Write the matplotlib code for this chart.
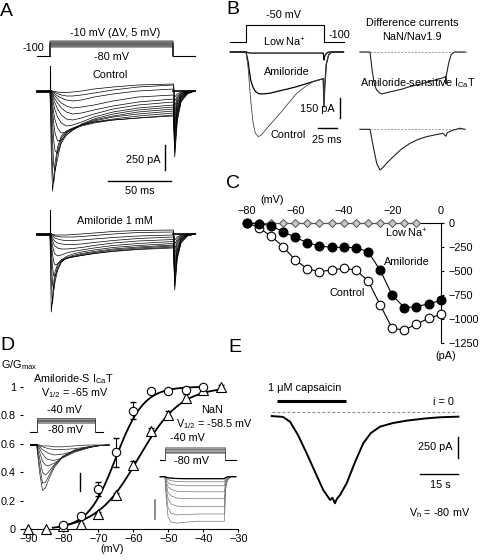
import numpy as np
import matplotlib.pyplot as plt

plt.rcParams['font.family'] = ['Liberation Sans', 'DejaVu Sans']
plt.rcParams['mathtext.fontset'] = 'custom'
plt.rcParams['mathtext.rm'] = 'Liberation Sans'
plt.rcParams['mathtext.it'] = 'Liberation Sans:italic'
plt.rcParams['mathtext.bf'] = 'Liberation Sans:bold'
plt.rcParams['font.size'] = 7.8
plt.rcParams['axes.linewidth'] = 0.8

W, H = 480, 560
FS = 7.8

# ---------------- A: current families, ms / pA ----------------
a_t = [-10, 0, 1, 2, 3, 4, 6, 9, 13, 18, 25, 35, 50, 70, 98, 99, 101, 104, 109, 115]
a_control = [
    [0, 0, -600, -1000, -880, -720, -560, -450, -400, -370, -340, -310, -290, -270, -250, -660, -300, -110, -30, 0],
    [0, 0, -350, -800, -920, -800, -600, -470, -410, -380, -350, -320, -290, -270, -240, -620, -280, -100, -25, 0],
    [0, 0, -200, -500, -750, -800, -680, -500, -420, -380, -340, -310, -280, -250, -220, -560, -250, -90, -20, 0],
    [0, 0, -120, -300, -500, -600, -620, -520, -440, -390, -340, -300, -260, -230, -200, -500, -220, -80, -20, 0],
    [0, 0, -80, -200, -330, -420, -500, -490, -440, -390, -340, -290, -250, -210, -180, -450, -200, -70, -15, 0],
    [0, 0, -50, -130, -220, -290, -370, -420, -410, -380, -330, -280, -230, -190, -160, -400, -180, -60, -15, 0],
    [0, 0, -30, -80, -140, -190, -260, -320, -350, -340, -310, -260, -210, -170, -140, -350, -160, -55, -10, 0],
    [0, 0, -20, -50, -90, -120, -180, -240, -280, -290, -270, -230, -180, -140, -110, -300, -130, -45, -10, 0],
    [0, 0, -10, -30, -60, -80, -120, -170, -210, -230, -220, -190, -150, -110, -80, -250, -110, -40, -10, 0],
    [0, 0, -5, -20, -40, -50, -80, -120, -150, -170, -160, -140, -100, -60, -40, -200, -90, -30, -5, 0],
    [0, 0, -5, -10, -20, -30, -50, -70, -90, -100, -90, -60, -30, 0, 20, -150, -70, -25, -5, 0],
    [0, 0, 0, -5, -10, -15, -25, -40, -50, -50, -40, -20, 10, 40, 60, -100, -50, -20, 0, 0],
    [0, 0, 0, 0, -5, -5, -10, -15, -15, -10, 0, 20, 40, 60, 70, -60, -30, -10, 0, 0],
]
a_amiloride = [
    [0, 0, -780, -650, -480, -380, -300, -260, -240, -230, -215, -195, -175, -155, -140, -560, -250, -90, -20, 0],
    [0, 0, -450, -700, -560, -430, -330, -270, -245, -230, -215, -195, -170, -150, -130, -520, -230, -80, -20, 0],
    [0, 0, -250, -500, -560, -480, -360, -280, -245, -225, -205, -185, -160, -140, -120, -470, -210, -70, -15, 0],
    [0, 0, -150, -330, -420, -420, -360, -280, -240, -215, -195, -175, -150, -130, -110, -420, -190, -60, -15, 0],
    [0, 0, -90, -200, -280, -310, -300, -260, -225, -200, -180, -160, -135, -115, -95, -370, -170, -55, -10, 0],
    [0, 0, -50, -120, -170, -200, -220, -210, -190, -175, -160, -140, -115, -95, -75, -320, -150, -50, -10, 0],
    [0, 0, -30, -70, -100, -120, -140, -150, -150, -145, -135, -115, -90, -70, -55, -260, -120, -40, -10, 0],
    [0, 0, -20, -40, -60, -75, -90, -100, -105, -105, -100, -85, -65, -45, -30, -200, -90, -30, -5, 0],
    [0, 0, -10, -20, -30, -40, -50, -60, -65, -65, -60, -50, -35, -20, -10, -150, -70, -25, -5, 0],
    [0, 0, -5, -10, -15, -20, -25, -30, -30, -30, -25, -15, 0, 15, 20, -100, -50, -15, 0, 0],
    [0, 0, 0, -5, -5, -10, -10, -10, -10, -5, 0, 10, 25, 35, 40, -60, -30, -10, 0, 0],
]
a_artifact = [250, 240]           # capacitive transient at step onset (pA)
a_steps_mv = list(range(-80, -5, 5))
a_step_ms = 98

# ---------------- B: low Na+ / amiloride, ms / pA ----------------
b_protocol_t = [-20, 0, 0, 100, 100, 125]
b_protocol_mv = [-100, -100, -50, -50, -100, -100]
b_t = [-20, 0, 2.6, 6, 9, 12, 16, 20, 30, 44, 55, 65, 76, 86, 99, 100, 101, 103, 106, 110, 125]
b_control = [0, 0, -110, -360, -530, -610, -635, -620, -550, -458, -380, -310, -260, -222, -200, -410, -250, -90, -20, 0, 0]
b_amiloride = [0, 0, -70, -210, -265, -295, -312, -315, -310, -290, -275, -260, -240, -222, -200, -410, -250, -90, -20, 0, 0]
b_lowna = [0, 0, -5, -8, -8, -8, -8, -8, -8, -8, -8, -8, -8, -8, -8, -60, -30, -10, 0, 0, 0]
b_nan_t = [-13, 0, 3, 6, 8.5, 12, 15, 25, 40, 51, 65, 80, 93, 97, 97.3, 97.6, 99, 101, 104, 108, 122]
b_nan = [0, 0, -150, -250, -285, -305, -315, -300, -280, -260, -240, -215, -195, -185, -240, -185, -140, -80, -20, 0, 0]
b_icat_t = [-13, 0, 4.2, 8.6, 12.8, 16, 22, 29.9, 40, 51.3, 62, 72.7, 85, 93.6, 97.4, 99, 105, 115, 122]
b_icat = [0, 0, -130, -255, -305, -290, -250, -205, -150, -105, -75, -55, -40, -30, -52, -25, -10, 8, 0]

# ---------------- C: I-V relationships ----------------
c_mv = list(range(-80, 5, 5))
c_control = [0, -52, -138, -248, -387, -476, -508, -490, -473, -490, -600, -850, -1095, -1112, -1050, -991, -950]
c_amiloride = [0, -10, -32, -93, -152, -207, -242, -255, -255, -259, -300, -490, -750, -880, -870, -840, -806]
c_lowna_mv = list(range(-80, -5, 5))
c_lowna = [0, 0, 0, 0, 0, 0, 0, 0, 0, 0, 0, 0, 0, 0, 0]

# ---------------- D: activation curves ----------------
d_icat_mv = [-80, -75, -70, -65, -60, -55, -50, -45, -40]
d_icat_g = [0.03, 0.09, 0.28, 0.54, 0.83, 0.97, 0.97, 0.98, 1.0]
d_icat_err = [0.01, 0.02, 0.05, 0.10, 0.06, 0.01, 0.01, 0.01, 0.01]
d_nan_mv = [-90, -85, -80, -75, -70, -65, -60, -55, -50, -45, -40, -35]
d_nan_g = [0.0, 0.0, 0.02, 0.035, 0.11, 0.24, 0.45, 0.69, 0.80, 0.92, 0.98, 1.0]
d_nan_err = [0, 0, 0, 0.01, 0.01, 0.015, 0.03, 0.02, 0.03, 0.03, 0.01, 0.01]
d_icat_v12, d_icat_k = -65.0, 4.0
d_nan_v12, d_nan_k = -58.5, 6.0
d_steps_mv = list(range(-80, -35, 5))
d_icat_t = [-10, 0, 5, 10, 15, 20, 30, 45, 65, 90, 100, 110, 125]
d_icat_traces = [
    [0, 0, -150, -250, -235, -195, -125, -65, -30, -12, -8, -3, 0],
    [0, 0, -110, -210, -205, -175, -115, -62, -28, -10, -6, -2, 0],
    [0, 0, -70, -150, -165, -150, -110, -65, -30, -10, -5, -2, 0],
    [0, 0, -40, -90, -110, -115, -100, -70, -35, -12, -6, -2, 0],
    [0, 0, -20, -50, -70, -80, -85, -70, -40, -15, -8, -3, 0],
    [0, 0, -10, -25, -35, -45, -55, -50, -35, -15, -8, -3, 0],
    [0, 0, -5, -10, -15, -20, -25, -25, -20, -10, -5, -2, 0],
    [0, 0, 0, -5, -5, -5, -10, -10, -5, 0, 0, 0, 0],
]
d_nan_t = [-8, 0, 2, 5, 10, 20, 35, 55, 75, 99, 101, 104, 110, 118]
d_nan_traces = [
    [0, 0, -120, -220, -250, -255, -250, -245, -245, -245, -70, -20, 0, 0],
    [0, 0, -90, -170, -200, -210, -208, -205, -205, -205, -60, -15, 0, 0],
    [0, 0, -60, -120, -150, -162, -165, -165, -165, -165, -50, -12, 0, 0],
    [0, 0, -40, -85, -105, -118, -120, -121, -121, -121, -40, -10, 0, 0],
    [0, 0, -25, -55, -70, -80, -82, -83, -83, -83, -30, -8, 0, 0],
    [0, 0, -15, -30, -42, -48, -50, -50, -50, -50, -20, -5, 0, 0],
    [0, 0, -8, -16, -22, -26, -28, -28, -28, -28, -12, -3, 0, 0],
    [0, 0, -3, -6, -8, -10, -11, -11, -11, -11, -5, -1, 0, 0],
]

# ---------------- E: capsaicin response, s / pA ----------------
e_t = [0, 4.4, 7.2, 10.3, 13.7, 17.0, 20.2, 22.9, 23.8, 24.8, 25.6, 26.8, 29.4, 32.7, 35.9, 38.9, 42.5, 47.6, 52.9, 60.1, 66.0, 73.2]
e_pA = [-50, -60, -115, -268, -478, -693, -900, -1015, -990, -1053, -1000, -958, -823, -578, -363, -245, -172, -130, -103, -78, -64, -57]
e_caps_s = [2, 29]


fig = plt.figure(figsize=(W / 100, H / 100), dpi=100)


def box_axes(x0, y0, x1, y1):
    return fig.add_axes([x0 / W, 1 - y1 / H, (x1 - x0) / W, (y1 - y0) / H])


def trace_axes(x0, y0, x1, y1, ox, sx, oy, ky):
    # ox, oy: pixel of the data origin; sx: px per x unit; ky: y units per px
    ax = box_axes(x0, y0, x1, y1)
    ax.set_xlim((x0 - ox) / sx, (x1 - ox) / sx)
    ax.set_ylim((oy - y1) * ky, (oy - y0) * ky)
    ax.axis('off')
    return ax


def txt(x, y, s, ha='center', size=FS, **kw):
    fig.text(x / W, 1 - y / H, s, ha=ha, va='center', fontsize=size, **kw)


def schematic(v, lo, hi, h0, h1):
    # protocol drawing: holding at 0, step family squeezed between h0 and h1
    return h0 + (v - lo) / (hi - lo) * (h1 - h0)


# ================= panel A =================
axp = trace_axes(10, 30, 200, 62, 50, 1.26, 56, 1)
axp.plot([-10, 0], [0, 0], color='k', lw=0.8)
axp.plot([a_step_ms, 115], [0, 0], color='k', lw=0.8)
for v in a_steps_mv:
    h = schematic(v, -80, -10, 9, 15)
    axp.plot([0, 0, a_step_ms, a_step_ms], [0, h, h, 0], color='#333333', lw=0.35)
txt(115, 33, '-10 mV (\u0394V, 5 mV)')
txt(44, 48, '-100', ha='right')
txt(112, 57.5, '-80 mV')

axA1 = trace_axes(30, 60, 200, 200, 50, 1.26, 91, 10)
for tr in a_control:
    axA1.plot(a_t[1:], tr[1:], color='k', lw=0.5)
axA1.plot(a_t[:2], a_control[0][:2], color='k', lw=2)
axA1.plot([a_step_ms, 115], [0, 0], color='k', lw=1.2)
axA1.plot([0, 0], [0, a_artifact[0]], color='k', lw=0.8)
axA1.plot([91, 91], [-540, -790], color='k', lw=1)
axA1.plot([46, 96], [-900, -900], color='k', lw=1)
txt(110, 74.5, 'Control')
txt(161, 160, '250 pA', ha='right')
txt(140, 191, '50 ms')

axA2 = trace_axes(30, 205, 200, 325, 50, 1.26, 234, 10)
for tr in a_amiloride:
    axA2.plot(a_t[1:], tr[1:], color='k', lw=0.5)
axA2.plot(a_t[:2], a_amiloride[0][:2], color='k', lw=2)
axA2.plot([a_step_ms, 115], [0, 0], color='k', lw=1.2)
axA2.plot([0, 0], [0, a_artifact[1]], color='k', lw=0.8)
txt(115, 221.5, 'Amiloride 1 mM')

# ================= panel B =================
axbp = trace_axes(228, 18, 360, 46, 246, 0.78, 8, 1 / 0.34)
axbp.plot(b_protocol_t, b_protocol_mv, color='k', lw=0.8)
txt(284, 15, '-50 mV')
txt(285, 42, 'Low Na$^{+}$')
txt(339, 35, '-100')

axb = trace_axes(228, 44, 360, 150, 246, 0.78, 52, 7.5)
axb.plot(b_t, b_lowna, color='k', lw=0.9)
axb.plot(b_t, b_amiloride, color='k', lw=0.9)
axb.plot(b_t, b_control, color='#444444', lw=0.6)
axb.plot([120.5, 120.5], [-345, -495], color='k', lw=1)
axb.plot([92, 117], [-570, -570], color='k', lw=1)
txt(287, 72, 'Amiloride')
txt(288, 135, 'Control')
txt(335, 109, '150 pA', ha='right')
txt(327, 140, '25 ms')

axn = trace_axes(358, 44, 470, 100, 370, 0.78, 52, 7.5)
axn.plot([-13, 124], [0, 0], color='#999999', lw=0.7, ls=(0, (2, 1.5)))
axn.plot(b_nan_t, b_nan, color='#222222', lw=0.8)
txt(412, 23, 'Difference currents')
txt(412, 37, 'NaN/Nav1.9')

axi = trace_axes(358, 118, 470, 180, 370, 0.78, 129.3, 7.5)
axi.plot([-13, 119], [0, 0], color='#999999', lw=0.7, ls=(0, (2, 1.5)))
axi.plot(b_icat_t, b_icat, color='#222222', lw=0.8)
txt(418, 83, 'Amiloride-sensitive I$_{\\rm Ca}$T')

# ================= panel C =================
axc = box_axes(241.85, 222.7, 440.7, 344.3)
axc.set_xlim(-82, 0)
axc.set_ylim(-1260, 0)
for s in ['left', 'bottom']:
    axc.spines[s].set_visible(False)
axc.spines['top'].set_bounds(-80, 0)
axc.spines['right'].set_bounds(-1250, 0)
axc.xaxis.set_ticks_position('top')
axc.yaxis.set_ticks_position('right')
axc.set_xticks([-80, -60, -40, -20, 0])
axc.set_yticks([0, -250, -500, -750, -1000, -1250])
axc.tick_params(axis='x', length=0, pad=5, labelsize=FS)
axc.tick_params(axis='y', length=2.5, pad=3, labelsize=FS)
axc.plot(c_lowna_mv, c_lowna, color='#555555', lw=0.8, marker='D', ms=4.2,
         mfc='#c8c8c8', mec='#555555', mew=0.7, clip_on=False, zorder=3)
axc.plot(c_mv, c_control, color='k', lw=0.8, marker='o', ms=6.2,
         mfc='white', mec='k', mew=0.8, clip_on=False, zorder=4)
axc.plot(c_mv, c_amiloride, color='k', lw=0.8, marker='o', ms=6.2,
         mfc='k', mec='k', clip_on=False, zorder=5)
txt(272, 200, '(mV)')
txt(446, 356, '(pA)')
txt(407, 233, 'Low Na$^{+}$')
txt(407, 262, 'Amiloride')
txt(347, 293, 'Control')

# ================= panel D =================
axd = box_axes(23.05, 378.1, 238.3, 529.3)
axd.set_xlim(-91.5, -30)
axd.set_ylim(0, 1.06)
for s in ['left', 'top', 'right']:
    axd.spines[s].set_visible(False)
axd.set_xticks(range(-90, -25, 10))
axd.set_yticks([0, 0.2, 0.4, 0.6, 0.8, 1.0])
axd.set_yticklabels(['0', '0.2', '0.4', '0.6', '0.8', '1'])
axd.tick_params(axis='x', length=2.5, pad=1, labelsize=FS)
axd.tick_params(axis='y', length=2, pad=3, labelsize=FS)
v1 = np.linspace(-83, -40, 200)
v2 = np.linspace(-81, -35, 200)
axd.plot(v1, 1 / (1 + np.exp((d_icat_v12 - v1) / d_icat_k)), color='k', lw=1.3)
axd.plot(v2, 1 / (1 + np.exp((d_nan_v12 - v2) / d_nan_k)), color='k', lw=1.3)
axd.errorbar(d_icat_mv, d_icat_g, yerr=d_icat_err, fmt='none', ecolor='k', elinewidth=0.8, capsize=2.5)
axd.errorbar(d_nan_mv, d_nan_g, yerr=d_nan_err, fmt='none', ecolor='k', elinewidth=0.8, capsize=2.5)
axd.plot(d_nan_mv, d_nan_g, ls='none', marker='^', ms=6.5, mfc='white', mec='k', mew=0.8,
         clip_on=False, zorder=4)
axd.plot(d_icat_mv, d_icat_g, ls='none', marker='o', ms=6.0, mfc='white', mec='k', mew=0.8,
         clip_on=False, zorder=5)
txt(1, 365, 'G/G$_{\\rm max}$', ha='left')
txt(112, 549, '(mV)')

# left inset: amiloride-sensitive ICaT
txt(73, 379, 'Amiloride-S I$_{\\rm Ca}$T')
txt(75, 393, 'V$_{1/2}$ = -65 mV')
axdp1 = trace_axes(28, 412, 106, 434, 36.7, 0.58, 431.7, 1)
axdp1.plot([-12, 0], [0, 0], color='k', lw=0.8)
axdp1.plot([100, 114], [0, 0], color='k', lw=0.8)
for v in d_steps_mv:
    h = schematic(v, -80, -40, 9, 14)
    axdp1.plot([0, 0, 100, 100], [0, h, h, 0], color='#444444', lw=0.4)
txt(64, 410, '-40 mV')
txt(66, 430, '-80 mV')
axdt1 = trace_axes(28, 435, 112, 500, 36.7, 0.58, 445, 5.5)
for tr in d_icat_traces:
    axdt1.plot(d_icat_t, tr, color='#222222', lw=0.5)
axdt1.plot(d_icat_t[:2], [0, 0], color='k', lw=1.5)
axdt1.plot([74.7, 74.7], [-155, -255], color='k', lw=1)

# right inset: NaN
txt(212, 410, 'NaN')
txt(214, 424, 'V$_{1/2}$ = -58.5 mV')
axdp2 = trace_axes(155, 440, 240, 463, 165, 0.6, 460, 1)
axdp2.plot([-8, 0], [0, 0], color='k', lw=0.8)
axdp2.plot([100, 119], [0, 0], color='k', lw=0.8)
for v in d_steps_mv:
    h = schematic(v, -80, -40, 7, 13)
    axdp2.plot([0, 0, 100, 100], [0, h, h, 0], color='#555555', lw=0.4)
txt(187, 438, '-40 mV')
txt(192, 461, '-80 mV')
axdt2 = trace_axes(150, 470, 240, 530, 165, 0.6, 476.7, 5.5)
for tr in d_nan_traces:
    axdt2.plot(d_nan_t, tr, color='#777777', lw=0.5)
axdt2.plot(d_nan_t, d_nan_traces[-1], color='k', lw=0.9)
axdt2.plot([-16.7, -16.7], [-130, -230], color='#777777', lw=1.2)

# ================= panel E =================
axe = trace_axes(262, 380, 470, 525, 271.7, 2.55, 411.7, 11.5)
axe.plot([0, 73.2], [0, 0], color='#888888', lw=0.8, ls=(0, (2.5, 2)))
axe.plot(e_t, e_pA, color='k', lw=1.4)
axe.plot(e_caps_s, [126, 126], color='k', lw=2.2, solid_capstyle='butt')
axe.plot([73.2, 73.2], [-287, -537], color='k', lw=1)
axe.plot([58.2, 73.2], [-720, -720], color='k', lw=1)
txt(305, 388, '1 \u03bcM capsaicin')
txt(454, 402, 'i = 0', ha='right')
txt(452, 447, '250 pA', ha='right')
txt(440, 485, '15 s')
txt(440, 513, 'V$_{\\rm h}$ = -80 mV')

# panel letters
for lab, x, y in [('A', 0, 12), ('B', 226, 10), ('C', 226, 183), ('D', 0, 346), ('E', 228, 347)]:
    txt(x, y, lab, ha='left', size=14)

fig.savefig('out.png', dpi=100)
